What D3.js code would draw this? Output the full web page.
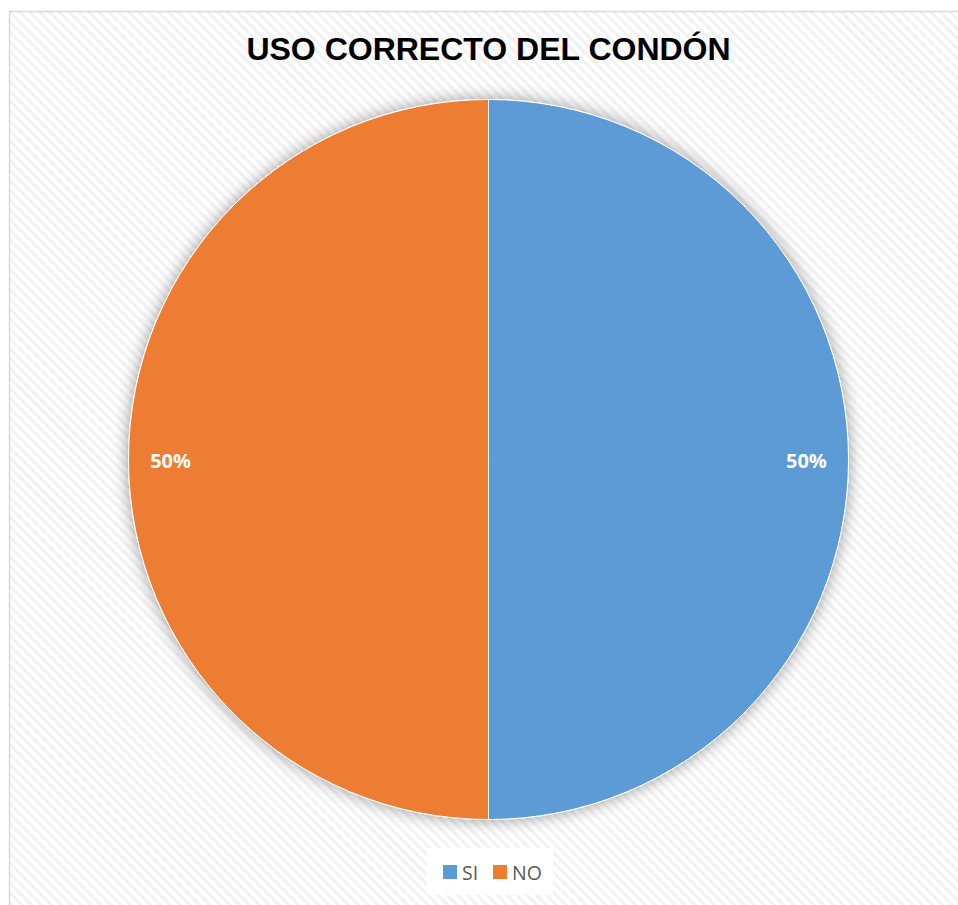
<!DOCTYPE html>
<html>
<head>
<meta charset="utf-8">
<script src="https://cdn.jsdelivr.net/npm/d3@7"></script>
<style>
  body { margin: 0; background: #fff; }
  svg { display: block; }
</style>
</head>
<body>
<div class="pie-chart"></div>
<script>
// chart data
var categories = ["SI", "NO"];
var values = [50, 50];
var colors = ["#5B9BD5", "#ED7D31"];
var title = "USO CORRECTO DEL CONDÓN";

var chart = {
    width: 958,
    height: 905,
    cx: 488.5,
    cy: 459.5,
    radius: 360,
    init() {
        //svg holding everything
        this.svg = d3.select(".pie-chart")
            .append("svg")
            .attr("width", this.width)
            .attr("height", this.height);

        var defs = this.svg.append("defs");

        //diagonal stripes for the background
        var pat = defs.append("pattern")
            .attr("id", "stripes")
            .attr("patternUnits", "userSpaceOnUse")
            .attr("width", 7)
            .attr("height", 7)
            .attr("patternTransform", "rotate(45)");
        pat.append("rect").attr("width", 7).attr("height", 7).attr("fill", "#ffffff");
        pat.append("rect").attr("width", 7).attr("height", 3).attr("fill", "#f2f2f2");

        //soft shadow around the pie
        var f = defs.append("filter")
            .attr("id", "shadow")
            .attr("x", "-20%").attr("y", "-20%")
            .attr("width", "140%").attr("height", "140%");
        f.append("feDropShadow")
            .attr("dx", 0).attr("dy", 0)
            .attr("stdDeviation", 8)
            .attr("flood-color", "#000")
            .attr("flood-opacity", 0.4);

        //chart area
        this.svg.append("rect")
            .attr("x", 9.5).attr("y", 11.5)
            .attr("width", this.width + 20)
            .attr("height", this.height + 20)
            .attr("fill", "url(#stripes)")
            .attr("stroke", "#d9d9d9")
            .attr("stroke-width", 1.5);

        //title
        this.svg.append("text")
            .attr("x", this.cx)
            .attr("y", 60)
            .attr("text-anchor", "middle")
            .style("font-family", "'Liberation Sans', Arial, sans-serif")
            .style("font-weight", "bold")
            .style("font-size", "32px")
            .style("fill", "#000")
            .text(title);
    },
    drawPie() {
        var pie = d3.pie().sort(null).value(function (d) { return d.value; });
        var arc = d3.arc().innerRadius(0).outerRadius(this.radius);
        var labelArc = d3.arc().innerRadius(this.radius * 0.883).outerRadius(this.radius * 0.883);

        var data = categories.map(function (c, i) { return { name: c, value: values[i], color: colors[i] }; });
        var total = d3.sum(values);
        var arcs = pie(data);

        var g = this.svg.append("g")
            .attr("transform", "translate(" + this.cx + "," + this.cy + ")");

        g.append("g")
            .attr("filter", "url(#shadow)")
            .selectAll("path")
            .data(arcs)
            .enter()
            .append("path")
            .attr("d", arc)
            .attr("fill", function (d) { return d.data.color; })
            .attr("stroke", "#ffffff")
            .attr("stroke-width", 1);

        g.selectAll("text.lbl")
            .data(arcs)
            .enter()
            .append("text")
            .attr("class", "lbl")
            .attr("transform", function (d) {
                var p = labelArc.centroid(d);
                return "translate(" + p[0] + "," + (p[1] + 8) + ")";
            })
            .attr("text-anchor", "middle")
            .style("font-family", "'Open Sans', sans-serif")
            .style("font-weight", "bold")
            .style("font-size", "20px")
            .style("fill", "#ffffff")
            .text(function (d) { return Math.round(d.data.value / total * 100) + "%"; });
    },
    drawLegend() {
        var lg = this.svg.append("g");
        lg.append("rect")
            .attr("x", 427).attr("y", 848)
            .attr("width", 126).attr("height", 47)
            .attr("fill", "#ffffff");

        var offsets = [443, 493];
        var items = lg.selectAll("g.item")
            .data(categories)
            .enter()
            .append("g")
            .attr("class", "item")
            .attr("transform", function (d, i) { return "translate(" + offsets[i] + ",0)"; });

        items.append("rect")
            .attr("x", 0).attr("y", 865)
            .attr("width", 14).attr("height", 14)
            .attr("fill", function (d, i) { return colors[i]; });

        items.append("text")
            .attr("x", 19).attr("y", 879.5)
            .style("font-family", "'Open Sans', sans-serif")
            .style("font-size", "19.5px")
            .style("fill", "#595959")
            .text(function (d) { return d; });
    }
};

chart.init();
chart.drawPie();
chart.drawLegend();
</script>
</body>
</html>
